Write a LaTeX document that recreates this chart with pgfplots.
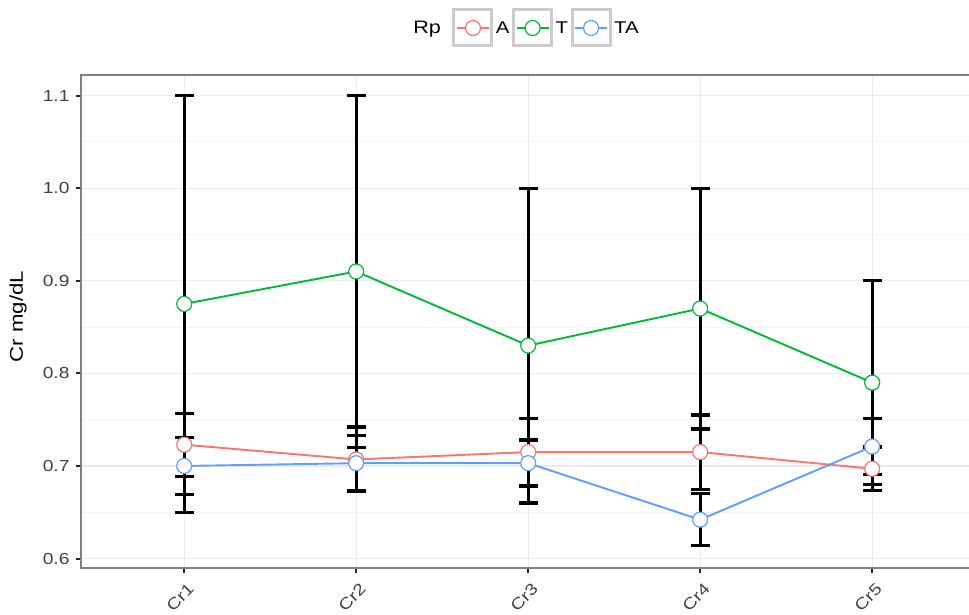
\documentclass[border=0pt]{standalone}
\usepackage{fontspec}
\setmainfont{Liberation Sans}[FakeStretch=1.2]
\usepackage{pgfplots}
\usepackage{pgfplotstable}
\pgfplotsset{compat=1.18}
\definecolor{cA}{HTML}{F8766D}
\definecolor{cT}{HTML}{00BA38}
\definecolor{cTA}{HTML}{619CFF}
\definecolor{gridmaj}{HTML}{EBEBEB}
\definecolor{gridmin}{HTML}{F4F4F4}

\pgfplotstableread{
x y e
1 0.875 0.225
2 0.910 0.190
3 0.830 0.170
4 0.870 0.130
5 0.790 0.110
}\dataT
\pgfplotstableread{
x y e
1 0.723 0.034
2 0.707 0.035
3 0.715 0.036
4 0.715 0.040
5 0.697 0.0235
}\dataA
\pgfplotstableread{
x y e
1 0.700 0.031
2 0.703 0.030
3 0.703 0.025
4 0.642 0.028
5 0.721 0.030
}\dataTA

\begin{document}
\begin{tikzpicture}[x=1pt,y=1pt]
\useasboundingbox (-81,-46) rectangle (888,568);
\begin{axis}[
  at={(0,0)}, anchor=south west,
  scale only axis, width=888pt, height=493pt,
  xmin=0.4, xmax=5.563, ymin=0.5898, ymax=1.1222,
  clip=false,
  xtick={1,2,3,4,5}, xticklabels={Cr1,Cr2,Cr3,Cr4,Cr5},
  ytick={0.6,0.7,0.8,0.9,1.0,1.1},
  yticklabels={0.6,0.7,0.8,0.9,1.0,1.1},
  minor ytick={0.65,0.75,0.85,0.95,1.05},
  grid=both,
  major grid style={draw=gridmaj, line width=1.2pt},
  minor grid style={draw=gridmin, line width=0.9pt},
  axis line style={draw=none},
  tick align=outside, tick pos=left,
  major tick length=5pt, minor tick length=0pt,
  tick style={black!85, line width=2pt},
  minor tick style={draw=none},
  yticklabel style={font=\fontsize{16}{16}\selectfont, text=black!75, xshift=-3pt},
  xticklabel style={font=\fontsize{16}{16}\selectfont, text=black!75, rotate=45, anchor=north east, yshift=-5pt, xshift=-1pt},
  ylabel={Cr mg/dL},
  ylabel style={font=\fontsize{18.5}{18.5}\selectfont, at={(axis description cs:0,0.5)}, anchor=center, yshift=63pt, xshift=5pt},
  legend columns=-1,
  legend style={draw=none, fill=none, at={(axis description cs:0.5,1)}, anchor=center, yshift=47pt, xshift=1pt,
    font=\fontsize{17}{17}\selectfont, column sep=0pt, nodes={inner xsep=2.5pt}},
  legend cell align=left,
  legend image code/.code={
    \draw[draw=black!20, line width=3pt, fill=white] (0pt,-18pt) rectangle (38pt,18pt);
    \draw[mark repeat=2,mark phase=2,#1] plot coordinates {(3pt,0pt)(19pt,0pt)(35pt,0pt)};
  },
]
% error bars
\addplot[forget plot, draw=none, mark=none,
  error bars/.cd, y dir=both, y explicit,
  error bar style={draw=black, line width=3.2pt},
  error mark options={draw=black, line width=3.2pt, mark size=9.5pt, rotate=90}]
  table[x=x, y=y, y error=e] {\dataA};
\addplot[forget plot, draw=none, mark=none,
  error bars/.cd, y dir=both, y explicit,
  error bar style={draw=black, line width=3.2pt},
  error mark options={draw=black, line width=3.2pt, mark size=9.5pt, rotate=90}]
  table[x=x, y=y, y error=e] {\dataT};
\addplot[forget plot, draw=none, mark=none,
  error bars/.cd, y dir=both, y explicit,
  error bar style={draw=black, line width=3.2pt},
  error mark options={draw=black, line width=3.2pt, mark size=9.5pt, rotate=90}]
  table[x=x, y=y, y error=e] {\dataTA};

\addlegendimage{empty legend}
\addlegendentry{\fontsize{18}{18}\selectfont Rp\hspace*{9pt}\mbox{}}
\addplot[cA, line width=1.9pt, mark=*, mark size=7.5pt, mark options={fill=white, draw=cA, line width=1.2pt}]
  table[x=x, y=y] {\dataA};
\addlegendentry{A}
\addplot[cT, line width=1.9pt, mark=*, mark size=7.5pt, mark options={fill=white, draw=cT, line width=1.2pt}]
  table[x=x, y=y] {\dataT};
\addlegendentry{T}
\addplot[cTA, line width=1.9pt, mark=*, mark size=7.5pt, mark options={fill=white, draw=cTA, line width=1.2pt}]
  table[x=x, y=y] {\dataTA};
\addlegendentry{TA}

\draw[black!50, line width=1.6pt] (rel axis cs:1.01,0) -- (rel axis cs:0,0) -- (rel axis cs:0,1) -- (rel axis cs:1.01,1);
\end{axis}
\end{tikzpicture}
\end{document}
